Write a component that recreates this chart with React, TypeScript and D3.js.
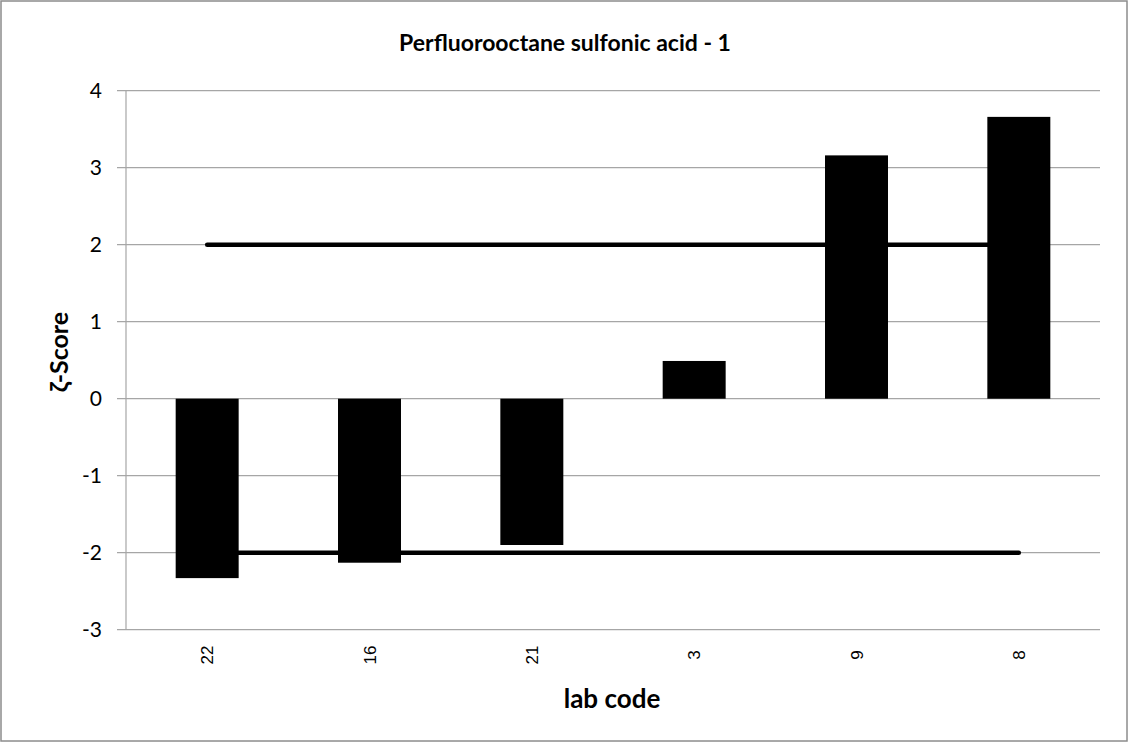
import React from "react";
import * as d3 from "d3";

const labCodes = ["22", "16", "21", "3", "9", "8"];
const zScores = [-2.33, -2.13, -1.9, 0.49, 3.16, 3.66];
const limitValues = [2, -2];
const yTicks = [-3, -2, -1, 0, 1, 2, 3, 4];

const W = 1128;
const H = 742;
const M = { left: 126, right: 1100, top: 90.7, bottom: 629.7 };

export default function App() {
  const x = d3
    .scaleBand<string>()
    .domain(labCodes)
    .range([M.left, M.right])
    .paddingInner(0.612)
    .paddingOuter(0.306);
  const xc = d3.scalePoint<string>().domain(labCodes).range([M.left, M.right]).padding(0.5);
  const y = d3.scaleLinear().domain([-3, 4]).range([M.bottom, M.top]);
  const gridColor = "#a6a6a6";
  const font = "Lato, 'Open Sans', sans-serif";
  const lineGen = d3
    .line<string>()
    .x((d) => xc(d) as number);

  return (
    <svg
      width={W}
      height={H}
      style={{ position: "absolute", left: 0, top: 0, background: "#fff" }}
    >
      <rect x={1} y={1} width={W - 2} height={H - 2} fill="#fff" stroke="#8c8c8c" strokeWidth={1.5} />
      <text x={565} y={51} textAnchor="middle" fontFamily={font} fontWeight="bold" fontSize={23} fill="#000">
        Perfluorooctane sulfonic acid - 1
      </text>
      {yTicks.map((t) => (
        <g key={t}>
          <line x1={117} x2={M.right} y1={y(t)} y2={y(t)} stroke={gridColor} strokeWidth={1.2} />
          <text x={102} y={y(t)} dy="0.36em" textAnchor="end" fontFamily={font} fontSize={21} fill="#000">
            {t}
          </text>
        </g>
      ))}
      <line x1={M.left} x2={M.left} y1={M.top} y2={M.bottom} stroke={gridColor} strokeWidth={1.2} />
      {limitValues.map((v) => (
        <path
          key={v}
          d={lineGen.y(() => y(v))(labCodes) as string}
          stroke="#000"
          strokeWidth={4.5}
          strokeLinecap="round"
          fill="none"
        />
      ))}
      {labCodes.map((c, i) => (
        <rect
          key={c}
          x={x(c)}
          width={x.bandwidth()}
          y={Math.min(y(0), y(zScores[i]))}
          height={Math.abs(y(zScores[i]) - y(0))}
          fill="#000"
        />
      ))}
      {labCodes.map((c) => (
        <text
          key={c}
          transform={`translate(${(xc(c) as number) + 6},${655}) rotate(-90)`}
          textAnchor="middle"
          fontFamily="'Liberation Sans', Arial, sans-serif"
          fontSize={17}
          fill="#000"
        >
          {c}
        </text>
      ))}
      <text x={612} y={708} textAnchor="middle" fontFamily={font} fontWeight="bold" fontSize={26} fill="#000">
        lab code
      </text>
      <text
        transform={`translate(${68},${352}) rotate(-90)`}
        textAnchor="middle"
        fontFamily={font}
        fontWeight="bold"
        fontSize={25}
        fill="#000"
      >
        ζ-Score
      </text>
    </svg>
  );
}
